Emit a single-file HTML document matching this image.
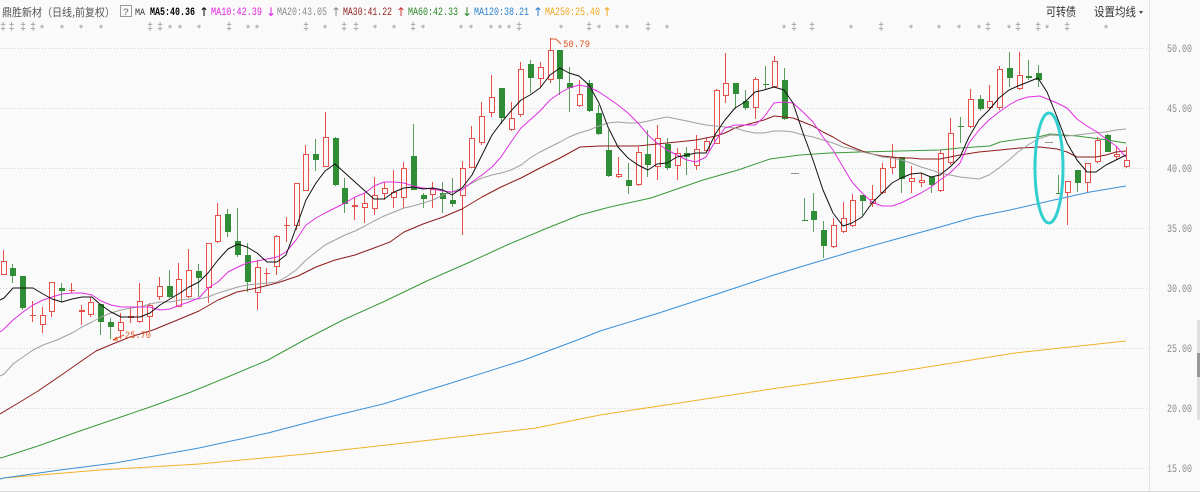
<!DOCTYPE html>
<html><head><meta charset="utf-8">
<style>html,body{margin:0;padding:0;background:#fafafa;overflow:hidden}svg{display:block}</style>
</head><body>
<svg id="s" width="1200" height="493" viewBox="0 0 1200 493" xmlns="http://www.w3.org/2000/svg" font-family="'Liberation Mono','Noto Sans CJK SC',monospace">
<rect width="1200" height="493" fill="#fafafa"/>
<g stroke="#d4d4d4" stroke-dasharray="1,2" stroke-width="1">
<line x1="0" y1="48.5" x2="1148" y2="48.5"/>
<line x1="0" y1="108.5" x2="1148" y2="108.5"/>
<line x1="0" y1="168.5" x2="1148" y2="168.5"/>
<line x1="0" y1="228.5" x2="1148" y2="228.5"/>
<line x1="0" y1="288.5" x2="1148" y2="288.5"/>
<line x1="0" y1="348.5" x2="1148" y2="348.5"/>
<line x1="0" y1="408.5" x2="1148" y2="408.5"/>
<line x1="0" y1="468.5" x2="1148" y2="468.5"/>
</g>
<line x1="1149.5" y1="0" x2="1149.5" y2="491" stroke="#e2e2e2"/>
<line x1="0" y1="491.5" x2="1200" y2="491.5" stroke="#dcdcdc"/>
<rect x="1197" y="320" width="3" height="100" fill="#e0e0e0"/>
<rect x="1197" y="353" width="3" height="24" fill="#999"/>

<g id="candles"></g>

<g fill="none" stroke-width="1" stroke-linejoin="round">
<polyline stroke="#f2b22a" points="0,479 4,478 100,470 199,464 306,454 440,439 536,428 600,415 679,403 778,388 896,372 1015,353 1070,347 1126,341"/>
<polyline stroke="#3a90d8" points="0,479 4,478 60,470 115,463 199,448 268,433 325,418 383,404 448,384 524,360 580,339 600,331 659,313 720,293 774,275 810,264 857,250 900,238 940,227 975,217 1010,210 1054,200 1090,192 1126,186"/>
<polyline stroke="#3a9a3a" points="0,458 4,457 38,446 77,432 115,419 153,406 191,392 230,376 268,360 306,339 343,320 383,302 429,280 470,262 507,245 545,229 580,215 610,207 651,198 703,180 738,170 770,159 800,155 830,153 860,152 900,151 940,150 960,148 990,146 1000,142 1020,139 1038,137 1050,134 1077,136 1100,139 1126,143"/>
<polyline stroke="#8e1c1c" points="0,414 20,402 38,391 60,376 80,362 96,351 115,343 130,337 153,330 175,321 199,311 218,300 237,292 257,288 277,283 298,276 316,267 335,260 355,255 374,248 390,242 404,232 423,224 443,217 462,209 482,197 501,187 521,178 540,168 560,158 580,147 600,146 618,146 638,146 657,144 677,142 696,140 716,136 725,133 735,128 745,125 764,120 774,116 784,117 793,118 803,122 813,126 823,132 833,137 843,143 852,147 862,151 872,154 882,156 892,157 901,158 911,158 921,159 931,159 940,159 950,157 960,155 979,152 1000,150 1020,148 1040,147 1057,149 1067,152 1077,157 1087,157 1096,157 1106,155 1116,152 1126,151"/>
<polyline stroke="#a0a0a0" points="0,376 4,374 13,364 23,357 33,350 43,345 57,340 72,333 82,327 92,322 101,317 111,313 121,310 131,308 140,307 150,304 160,302 170,302 180,300 189,299 199,299 208,297 218,293 228,290 238,287 247,285 257,284 267,283 277,282 286,277 296,270 306,260 316,252 325,245 335,240 345,235 355,231 365,226 374,221 384,216 394,212 404,208 413,206 423,203 433,200 443,195 452,192 462,188 472,183 482,178 492,175 501,173 511,170 521,165 530,158 540,152 550,147 560,142 569,137 579,133 589,130 599,126 608,123 618,122 628,123 638,123 648,121 657,119 667,117 677,119 687,121 696,123 706,125 716,126 725,127 735,128 745,131 755,133 764,133 774,131 784,131 793,132 803,135 813,137 823,140 833,143 843,147 852,149 862,152 872,154 882,157 892,158 901,160 911,163 921,167 931,170 940,173 950,175 960,177 969,178 979,179 989,175 999,168 1009,160 1018,152 1028,145 1038,139 1050,135 1067,136 1077,135 1093,133 1106,132 1116,130 1126,129"/>
<polyline stroke="#e030e0" points="0,332 4,329 13,320 23,312 33,305 43,300 52,297 62,294 72,293 82,293 92,295 101,301 111,305 121,307 131,307 140,307 150,307 160,310 170,309 180,305 189,302 199,298 208,288 218,282 228,272 238,267 247,263 257,261 267,259 277,257 286,252 296,240 306,225 316,218 325,213 335,208 345,203 355,197 365,193 374,186 384,182 394,182 404,183 413,186 423,188 433,189 443,191 452,192 462,190 472,182 482,175 492,167 501,157 511,142 521,128 530,120 540,111 550,100 560,93 569,88 579,85 589,87 599,92 608,98 618,105 628,113 638,123 648,135 657,143 667,150 677,155 687,160 696,162 706,157 716,140 725,128 735,125 745,125 755,125 764,117 774,103 784,102 793,103 803,112 813,122 823,137 833,150 843,167 852,182 862,193 872,202 882,206 892,206 901,203 911,198 921,193 931,187 940,180 950,173 960,163 969,143 979,130 989,120 999,112 1009,105 1018,100 1028,97 1040,96 1057,103 1067,108 1077,119 1087,126 1097,132 1106,139 1116,146 1126,157"/>
<polyline stroke="#111" points="0,300 4,298 13,288 23,288 33,288 43,294 52,299 62,302 72,299 82,297 92,297 101,305 111,312 121,317 131,317 140,317 150,313 160,305 170,299 180,293 189,287 199,282 208,273 218,260 228,249 238,244 247,247 257,253 267,262 277,262 286,255 296,228 306,200 316,183 325,171 335,164 345,173 355,182 365,191 374,199 384,199 394,192 404,188 413,187 423,189 433,188 443,190 452,195 462,188 472,175 482,155 492,135 501,123 511,111 521,100 530,95 540,88 550,75 560,68 569,73 579,76 589,85 599,103 608,127 618,147 628,158 638,165 648,170 657,164 667,163 677,157 687,155 696,153 706,153 716,133 725,120 735,108 745,102 755,92 764,90 774,87 784,90 793,103 803,133 813,160 823,190 833,213 843,226 852,223 862,217 872,203 882,193 892,183 901,178 911,174 921,173 931,177 940,175 950,167 960,157 969,137 979,120 989,110 999,98 1009,90 1018,86 1028,82 1038,78 1047,92 1057,117 1067,143 1077,160 1087,172 1096,172 1106,165 1116,160 1126,155"/>
</g>

<ellipse cx="1049" cy="168" rx="14" ry="55" fill="none" stroke="#33cfd0" stroke-width="3"/>

<!-- annotations -->
<polyline points="551,39 556,39 561,44" fill="none" stroke="#e0582a" stroke-width="1"/>
<text x="563" y="47" font-size="10" fill="#e0582a" textLength="27" lengthAdjust="spacingAndGlyphs">50.79</text>
<line x1="124" y1="335" x2="113" y2="340" stroke="#e0582a"/>
<line x1="113" y1="340" x2="117" y2="337" stroke="#e0582a"/>
<line x1="113" y1="340" x2="118" y2="340" stroke="#e0582a"/>
<text x="125" y="338" font-size="10" fill="#e0582a" textLength="26" lengthAdjust="spacingAndGlyphs">25.70</text>

<!-- header -->
<text x="2" y="16" font-size="11" fill="#555" font-family="'Noto Sans CJK SC',sans-serif" textLength="40" lengthAdjust="spacingAndGlyphs">鼎胜新材</text>
<text x="42" y="16" font-size="11" fill="#555" font-family="'Noto Sans CJK SC',sans-serif" textLength="73" lengthAdjust="spacingAndGlyphs">（日线,前复权）</text>
<rect x="120.5" y="5.5" width="11" height="11" fill="none" stroke="#999"/>
<text x="123" y="15" font-size="10" fill="#666">?</text>
<text x="135" y="15" font-size="10" fill="#333" textLength="10" lengthAdjust="spacingAndGlyphs">MA</text>
<text x="150" y="15" font-size="11" font-weight="bold" fill="#000" textLength="45" lengthAdjust="spacingAndGlyphs">MA5:40.36</text>
<text x="199" y="16" font-size="12" fill="#000" font-family="'DejaVu Sans',sans-serif">↑</text>
<text x="211" y="15" font-size="11" fill="#e020e0" textLength="51" lengthAdjust="spacingAndGlyphs">MA10:42.39</text>
<text x="266" y="16" font-size="12" fill="#e020e0" font-family="'DejaVu Sans',sans-serif">↓</text>
<text x="277" y="15" font-size="11" fill="#888" textLength="50" lengthAdjust="spacingAndGlyphs">MA20:43.05</text>
<text x="331" y="16" font-size="12" fill="#888" font-family="'DejaVu Sans',sans-serif">↑</text>
<text x="343" y="15" font-size="11" fill="#8e1c1c" textLength="49" lengthAdjust="spacingAndGlyphs">MA30:41.22</text>
<text x="396" y="16" font-size="12" fill="#d03030" font-family="'DejaVu Sans',sans-serif">↑</text>
<text x="408" y="15" font-size="11" fill="#2a8a2a" textLength="50" lengthAdjust="spacingAndGlyphs">MA60:42.33</text>
<text x="462" y="16" font-size="12" fill="#2a8a2a" font-family="'DejaVu Sans',sans-serif">↓</text>
<text x="474" y="15" font-size="11" fill="#2a80d0" textLength="55" lengthAdjust="spacingAndGlyphs">MA120:38.21</text>
<text x="533" y="16" font-size="12" fill="#2a80d0" font-family="'DejaVu Sans',sans-serif">↑</text>
<text x="545" y="15" font-size="11" fill="#f0a820" textLength="55" lengthAdjust="spacingAndGlyphs">MA250:25.40</text>
<text x="602" y="16" font-size="12" fill="#f0a820" font-family="'DejaVu Sans',sans-serif">↑</text>

<text x="1046" y="16" font-size="12" fill="#333" font-family="'Noto Sans CJK SC',sans-serif" textLength="30" lengthAdjust="spacingAndGlyphs">可转债</text>
<text x="1094" y="16" font-size="12" fill="#333" font-family="'Noto Sans CJK SC',sans-serif" textLength="42" lengthAdjust="spacingAndGlyphs">设置均线</text>
<polygon points="1139,11 1143,11 1141,14" fill="#444"/>

<!-- event markers -->
<g font-size="11" fill="#9a9a9a" font-family="'Liberation Sans',sans-serif" text-anchor="middle">
<text x="3" y="30">‡</text><text x="11.5" y="30">‡</text><text x="23" y="30">‡</text><text x="33" y="30">‡</text>
<text x="42" y="32">*</text><text x="62" y="32">*</text><text x="81" y="32">*</text><text x="101" y="32">*</text>
<text x="150" y="30">‡</text><text x="160" y="30">‡</text><text x="170" y="32">*</text><text x="180" y="32">*</text>
<text x="199" y="32">*</text><text x="229" y="30">‡</text><text x="248" y="32">*</text><text x="257" y="32">*</text>
<text x="306" y="30">‡</text><text x="325" y="32">*</text><text x="344" y="30">‡</text><text x="356" y="30">‡</text>
<text x="375" y="32">*</text><text x="394" y="32">*</text><text x="413" y="30">‡</text><text x="423" y="32">*</text>
<text x="461" y="32">*</text><text x="471" y="32">*</text><text x="491" y="32">*</text><text x="500" y="32">*</text>
<text x="509" y="32">*</text><text x="519" y="30">‡</text><text x="561" y="32">*</text><text x="589" y="30">‡</text>
<text x="599" y="32">*</text><text x="617" y="32">*</text><text x="627" y="32">*</text><text x="648" y="30">‡</text>
<text x="667" y="32">*</text><text x="784" y="32">*</text><text x="794" y="30">‡</text><text x="812" y="30">‡</text>
<text x="851" y="32">*</text><text x="881" y="30">‡</text><text x="911" y="32">*</text><text x="939" y="32">*</text>
<text x="959" y="32">*</text><text x="979" y="32">*</text><text x="988" y="30">‡</text><text x="1009" y="32">*</text>
<text x="1018" y="30">‡</text><text x="1038" y="30">‡</text><text x="1047" y="32">*</text><text x="1067" y="30">‡</text>
<text x="1106" y="32">*</text>
</g>

<!-- y axis labels -->
<g font-size="11" fill="#888">
<text x="1167" y="52" textLength="25" lengthAdjust="spacingAndGlyphs">50.00</text>
<text x="1167" y="112" textLength="25" lengthAdjust="spacingAndGlyphs">45.00</text>
<text x="1167" y="172" textLength="25" lengthAdjust="spacingAndGlyphs">40.00</text>
<text x="1167" y="232" textLength="25" lengthAdjust="spacingAndGlyphs">35.00</text>
<text x="1167" y="292" textLength="25" lengthAdjust="spacingAndGlyphs">30.00</text>
<text x="1167" y="352" textLength="25" lengthAdjust="spacingAndGlyphs">25.00</text>
<text x="1167" y="412" textLength="25" lengthAdjust="spacingAndGlyphs">20.00</text>
<text x="1167" y="472" textLength="25" lengthAdjust="spacingAndGlyphs">15.00</text>
</g>
</svg>
<script>
(function(){
var C=[
['u',261,275,250,275],['d',268,276,264,283],['d',276,308,276,310],['u',315,316,301,322],['u',315,325,307,333],
['u',282,312,282,317],['d',288,291,283,302],['u',290,291,283,293],['u',310,312,305,325],['u',302,315,297,317],
['d',304,322,304,335],['d',322,327,318,339],['u',322,331,313,339],['u',316,318,308,323],['u',301,322,283,323],
['u',305,317,303,330],['u',286,297,277,300],['d',286,297,270,298],['u',279,307,263,307],['u',270,297,249,298],
['d',271,278,264,297],['u',243,288,243,303],['u',215,242,203,243],['d',214,232,209,237],['d',241,255,208,257],
['d',255,282,243,292],['u',267,293,260,310],['u',273,274,268,285],['u',236,267,235,275],['u',225,226,217,242],
['u',183,226,183,230],['u',154,191,145,191],['d',154,160,139,171],['u',137,167,112,167],['d',138,185,137,186],
['d',188,204,178,213],['u',205,207,197,220],['u',203,208,193,223],['u',195,209,177,215],['u',188,194,182,200],
['u',192,198,170,208],['u',168,198,162,208],['d',156,190,124,190],['d',195,199,193,208],['u',189,195,182,208],
['d',193,199,182,213],['d',200,204,178,207],['u',168,196,161,235],['u',138,168,126,168],['u',116,143,102,145],
['u',97,113,75,117],['d',88,118,88,124],['u',118,130,102,131],['u',69,115,62,117],['d',64,78,60,93],
['u',67,79,62,88],['u',50,80,38,83],['d',50,79,50,95],['d',83,88,67,112],['u',94,106,80,107],
['d',83,111,80,112],['d',113,134,105,135],['d',150,176,130,177],['u',174,177,157,178],['d',180,186,163,194],
['u',152,185,147,186],['d',154,165,130,177],['u',138,167,125,180],['d',144,168,138,170],['u',153,166,148,180],
['d',153,157,147,175],['u',149,166,135,170],['u',141,151,138,153],['u',90,144,89,144],['u',83,96,53,103],
['d',83,94,83,109],['d',101,108,90,110],['u',79,108,77,119],['d',84,85,66,90],['u',61,87,56,87],
['d',80,119,68,120],['x',173],['d',220,221,198,221],['d',211,220,193,232],['d',230,246,221,258],
['u',225,247,218,248],['u',218,232,202,233],['u',200,226,194,227],['d',195,201,195,215],['u',199,204,185,207],
['u',168,193,163,194],['u',157,168,144,174],['d',157,179,157,193],['u',178,182,166,193],['u',180,183,173,187],
['d',177,185,177,193],['u',153,191,150,192],['u',133,163,118,165],['d',126,127,117,143],['u',99,127,89,128],
['d',99,109,95,111],['u',101,108,85,109],['u',69,108,66,110],['d',68,78,52,87],['u',75,89,52,90],
['d',76,78,60,80],['d',73,80,65,87],['x',142],['d',193,194,175,194],['u',181,193,181,225],
['d',170,183,170,192],['u',163,183,163,192],['u',140,162,137,163],['d',135,152,134,152],['u',154,157,146,160],
['u',160,167,147,168]
];
var NS="http://www.w3.org/2000/svg",g=document.getElementById('candles');
function R(x,y,w,h,f,s){var r=document.createElementNS(NS,'rect');r.setAttribute('x',x);r.setAttribute('y',y);r.setAttribute('width',w);r.setAttribute('height',h);r.setAttribute('fill',f);if(s){r.setAttribute('stroke',s);r.setAttribute('stroke-width','1');}g.appendChild(r);}
var RED='#e5504a',GRN='#2f8d36',GW='#5a9f5e';
for(var i=0;i<C.length;i++){
 var c=C[i],px=Math.round(3.5+9.77*i)-3;
 if(c[0]==='x'){R(px-1,c[1],8,1,'#8a9a8a');continue;}
 var t=c[1],b=c[2],wt=c[3],wb=c[4];
 if(c[0]==='u'){
  R(px+2,wt,1,Math.max(wb-wt,1),RED);
  if(b-t<2){R(px,t,6,1,RED);}
  else{R(px+0.5,t+0.5,5,b-t-1,'#fafafa',RED);}
 }else{
  R(px+2,wt,1,Math.max(wb-wt,1),GW);
  R(px,t,6,Math.max(b-t,1),GRN);
 }
}
})();
</script>
</body></html>
